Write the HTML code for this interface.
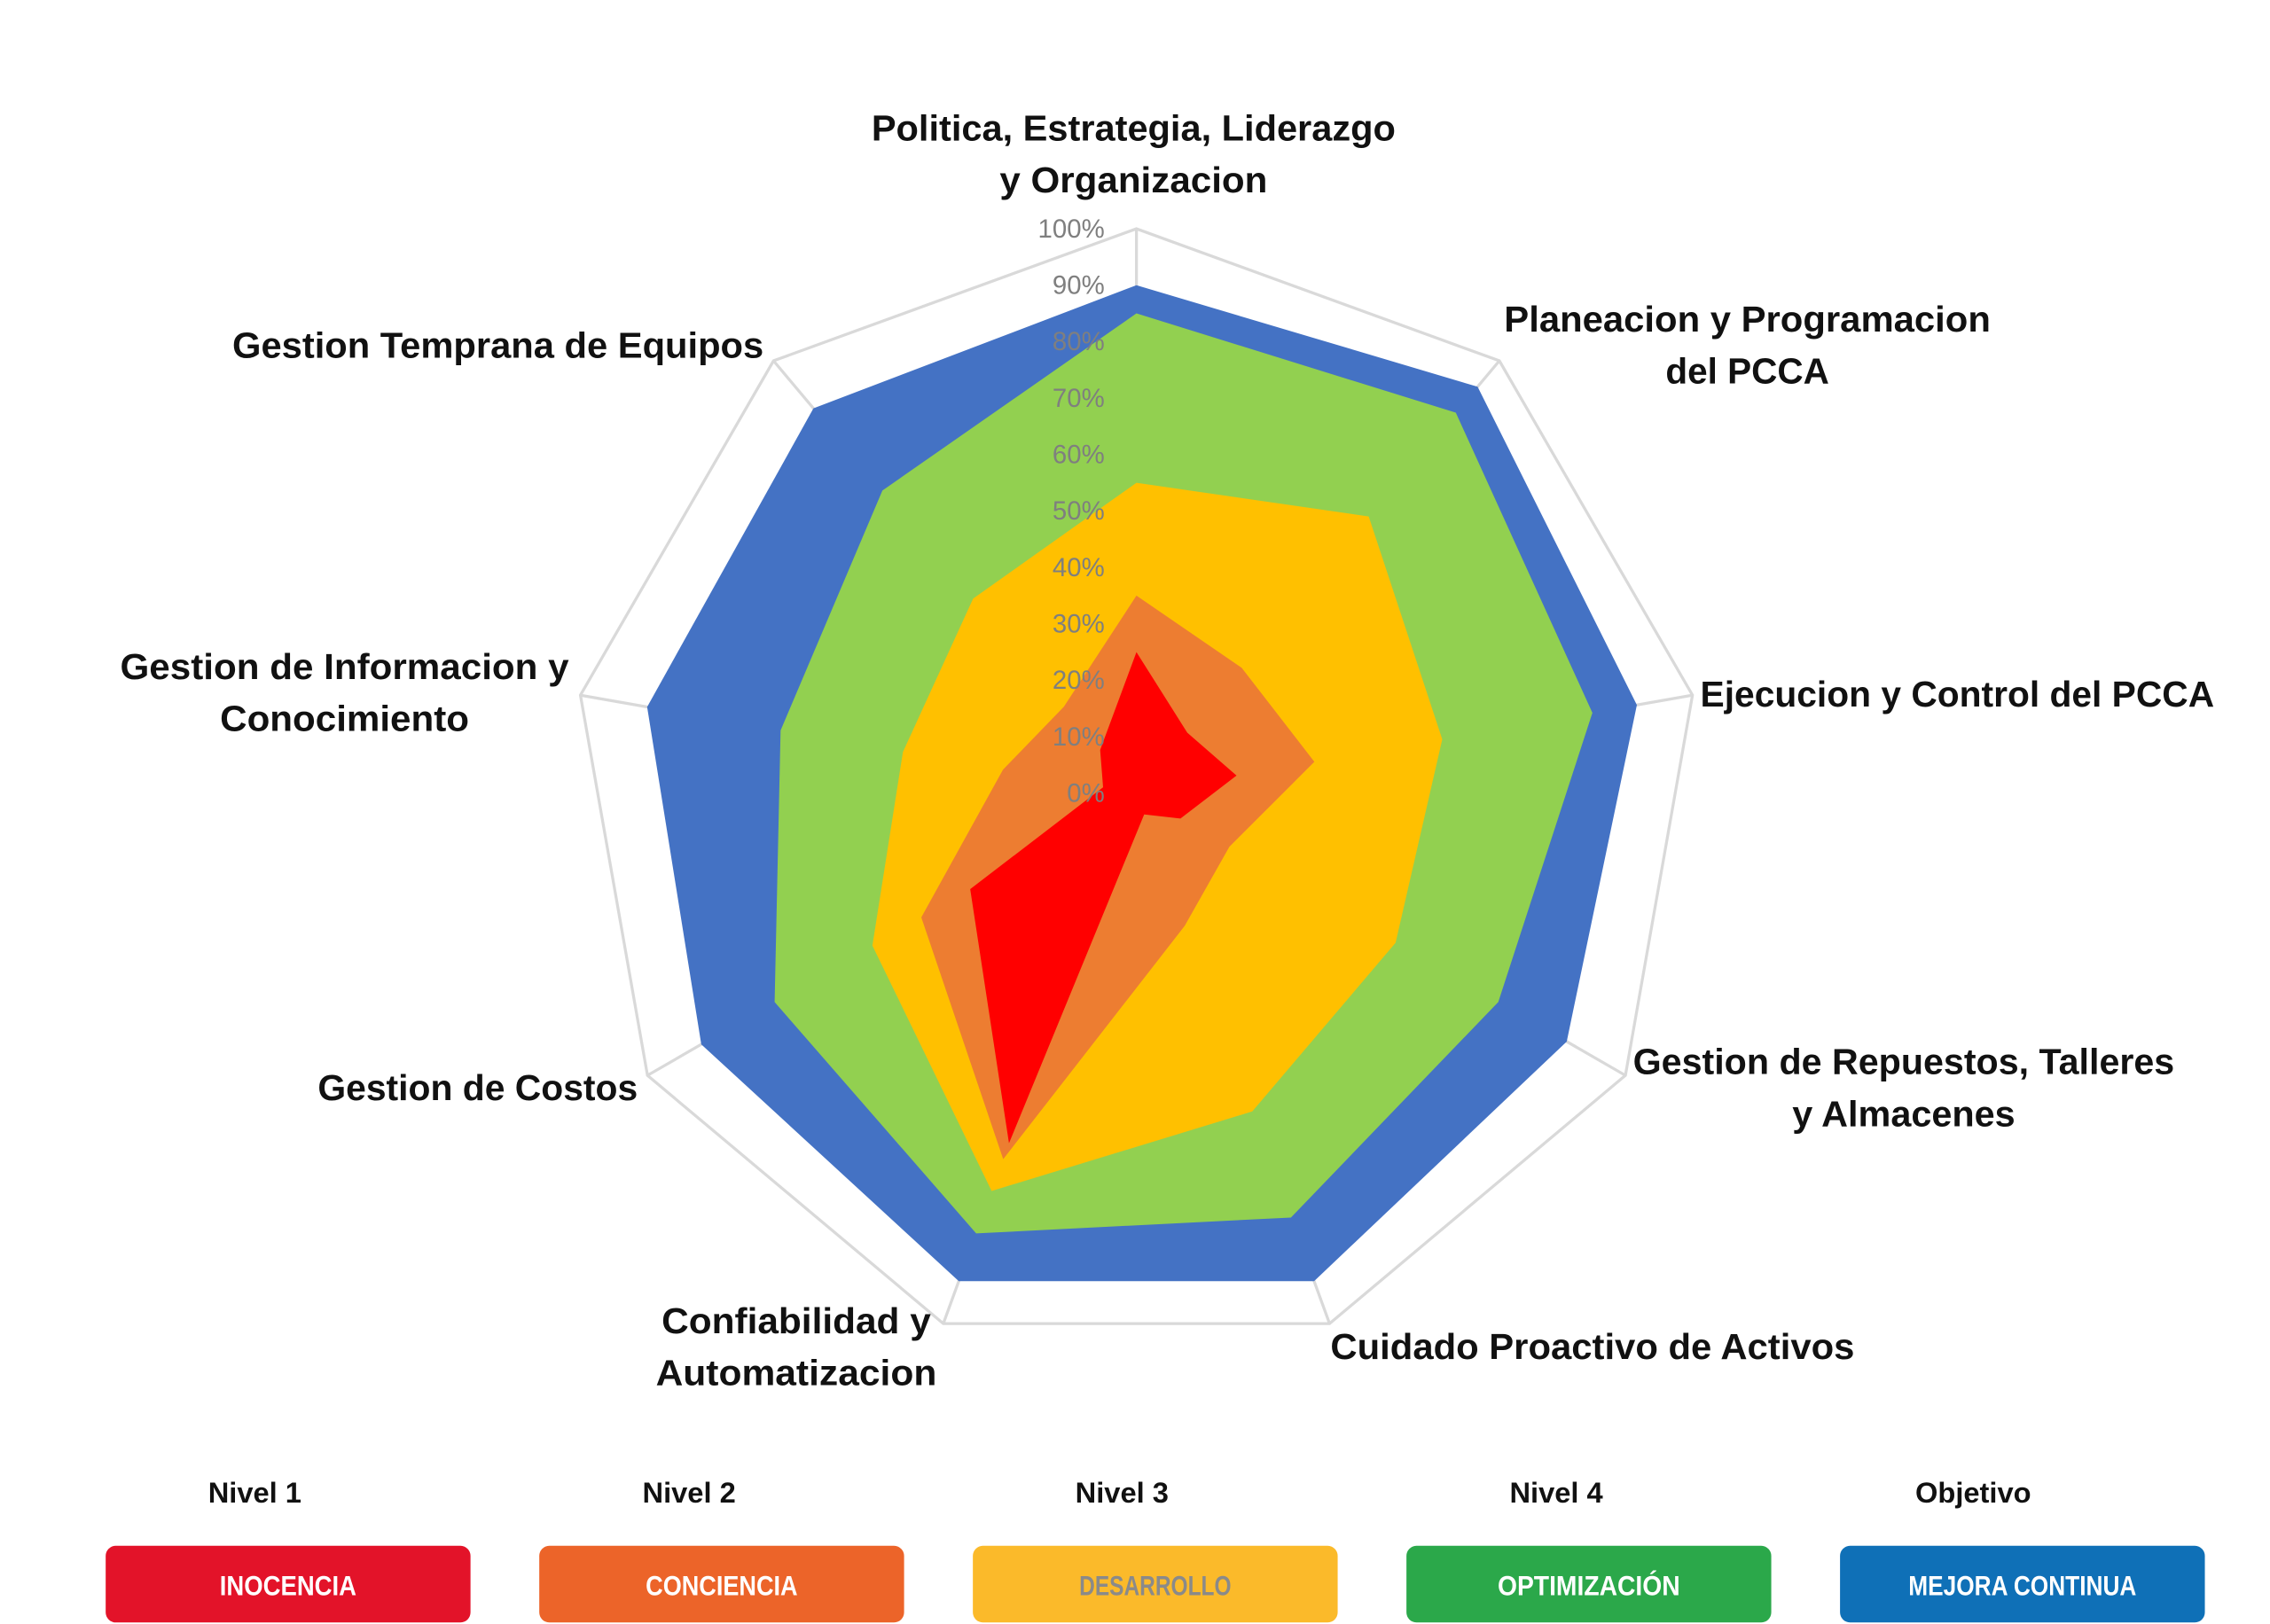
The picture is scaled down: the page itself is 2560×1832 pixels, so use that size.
<!DOCTYPE html>
<html><head><meta charset="utf-8"><style>
html,body{margin:0;padding:0;background:#fff;}
svg{display:block;}
</style></head><body>
<svg id="chart" width="2560" height="1832" viewBox="0 0 1568 1122" xmlns="http://www.w3.org/2000/svg" font-family="'Liberation Sans', sans-serif">
<rect width="1568" height="1122" fill="#fff"/>
<g id="grid"></g>
<g id="series"></g>
<g id="ticks"></g>
<g id="cats" font-weight="bold" font-size="25" fill="#111"></g>
<g id="legend"></g>
</svg>
<script>
const categories = ["Politica, Estrategia, Liderazgo|y Organizacion","Planeacion y Programacion|del PCCA","Ejecucion y Control del PCCA","Gestion de Repuestos, Talleres|y Almacenes","Cuidado Proactivo de Activos","Confiabilidad y|Automatizacion","Gestion de Costos","Gestion de Informacion y|Conocimiento","Gestion Temprana de Equipos"];
const objetivo = [0.90,0.94,0.90,0.88,0.92,0.92,0.89,0.88,0.89];
const nivel4 = [0.85,0.88,0.82,0.74,0.80,0.83,0.74,0.64,0.70];
const nivel3 = [0.55,0.64,0.55,0.53,0.60,0.75,0.54,0.42,0.45];
const nivel2 = [0.35,0.29,0.32,0.19,0.25,0.69,0.44,0.24,0.20];
const nivel1 = [0.25,0.14,0.18,0.09,0.04,0.66,0.34,0.06,0.10];
const tickLabels = ["0%","10%","20%","30%","40%","50%","60%","70%","80%","90%","100%"];
const seriesNames = ["objetivo","nivel-4","nivel-3","nivel-2","nivel-1"];
const legendTitles = ["Nivel 1","Nivel 2","Nivel 3","Nivel 4","Objetivo"];
const legendLabels = ["INOCENCIA","CONCIENCIA","DESARROLLO","OPTIMIZACIÓN","MEJORA CONTINUA"];

const NS="http://www.w3.org/2000/svg";
const cx=785, cy=548, R=390;
const N=categories.length;
function ang(i){return (-90+360/N*i)*Math.PI/180;}
function pt(i,v){return [cx+R*v*Math.cos(ang(i)), cy+R*v*Math.sin(ang(i))];}
function mk(tag,parent){const e=document.createElementNS(NS,tag);parent.appendChild(e);return e;}

const grid=document.getElementById('grid');
for(let i=0;i<N;i++){
  const [x,y]=pt(i,1);
  const l=mk('line',grid);
  
  
  l.setAttribute('x1',cx);l.setAttribute('y1',cy);l.setAttribute('x2',x);l.setAttribute('y2',y);
  l.setAttribute('stroke','#d9d9d9');l.setAttribute('stroke-width','2');
}
const outer=mk('polygon',grid);


outer.setAttribute('points',categories.map((c,i)=>pt(i,1).join(',')).join(' '));
outer.setAttribute('fill','none');outer.setAttribute('stroke','#d9d9d9');outer.setAttribute('stroke-width','2');

const seriesData=[objetivo,nivel4,nivel3,nivel2,nivel1];
const colors=["#4472C4","#92D050","#FFC000","#ED7D31","#FF0000"];
const sg=document.getElementById('series');
seriesData.forEach((arr,k)=>{
  const p=mk('polygon',sg);
  
  
  p.setAttribute('points',arr.map((v,i)=>pt(i,v).join(',')).join(' '));
  p.setAttribute('fill',colors[k]);
});

const tg=document.getElementById('ticks');
tickLabels.forEach((t,j)=>{
  const e=mk('text',tg);
  
  
  e.setAttribute('x',cx-22);e.setAttribute('y',cy-R*j/10+6);
  e.setAttribute('text-anchor','end');e.setAttribute('font-size','18');e.setAttribute('fill','#7f7f7f');
  e.textContent=t;
});

// label anchor positions (display coords, centers of text blocks)
const labelPos=[[783,88],[1207,220],[1352,479],[1315,733],[1100,930],[550,912],[330,751],[238,460],[344,238]];
const labelW=[[362,185],[336,113],[355],[374,154],[362],[186,194],[221],[310,172],[367]];
const cg=document.getElementById('cats');
categories.forEach((c,i)=>{
  c.split('|').forEach((line,j)=>{
    const e=mk('text',cg);
    
    
    e.setAttribute('x',labelPos[i][0]);e.setAttribute('y',labelPos[i][1]+9+j*36);
    e.setAttribute('text-anchor','middle');
    e.setAttribute('textLength',labelW[i][j]);e.setAttribute('lengthAdjust','spacingAndGlyphs');
    e.textContent=line;
  });
});

const lg=document.getElementById('legend');
const boxColors=["#E31329","#EC6429","#FBBA2A","#2BA84A","#0F70B7"];
const textColors=["#fff","#fff","#8a8a8a","#fff","#fff"];
const titleX=[176,476,775,1075,1363];
legendLabels.forEach((lab,k)=>{
  const x0=73+k*299.5;
  const t=mk('text',lg);
  
  
  t.setAttribute('x',titleX[k]);t.setAttribute('y',1038);t.setAttribute('text-anchor','middle');
  t.setAttribute('font-size','20');t.setAttribute('font-weight','bold');t.setAttribute('fill','#111');
  t.textContent=legendTitles[k];
  const r=mk('rect',lg);
  
  
  r.setAttribute('x',x0);r.setAttribute('y',1068);r.setAttribute('width',252);r.setAttribute('height',53);
  r.setAttribute('rx',7);r.setAttribute('fill',boxColors[k]);
  const b=mk('text',lg);
  
  
  b.setAttribute('x',x0+126);b.setAttribute('y',1102);b.setAttribute('text-anchor','middle');
  b.setAttribute('font-size','19');b.setAttribute('font-weight','bold');b.setAttribute('fill',textColors[k]);
  b.setAttribute('font-family',"'Liberation Sans Narrow','Liberation Sans',sans-serif");
  b.setAttribute('textLength',lab.length*10.5);b.setAttribute('lengthAdjust','spacingAndGlyphs');
  b.textContent=lab;
});
</script>
</body></html>
